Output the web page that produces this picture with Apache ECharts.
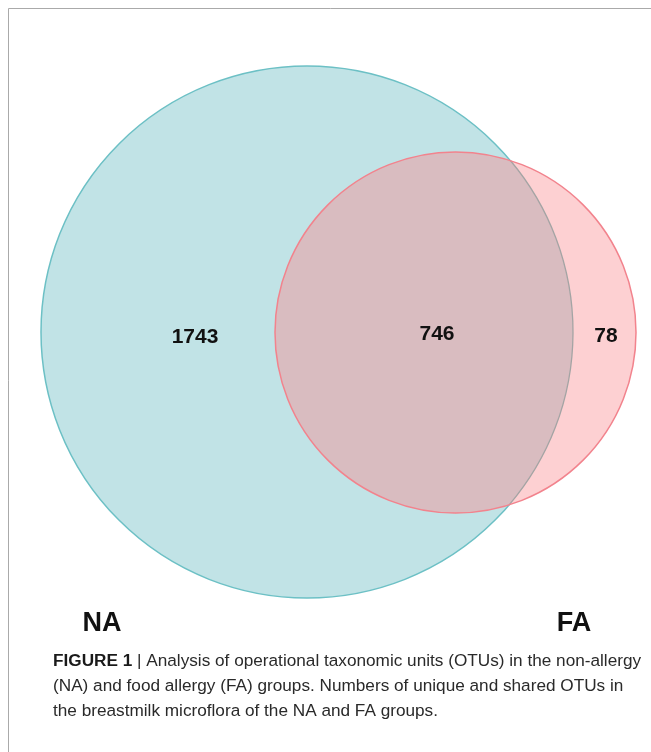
<!DOCTYPE html>
<html>
<head>
<meta charset="utf-8">
<script src="https://cdn.jsdelivr.net/npm/echarts@6/dist/echarts.min.js"></script>
<style>
html, body { margin: 0; padding: 0; background: #fff; }
#main { width: 651px; height: 752px; }
</style>
</head>
<body>
<div id="main"></div>
<script>
// venn sets and the circle layout (axis units)
const setNames = ['NA', 'FA'];
const centerX = [307, 455.5];
const centerY = [332, 332.5];
const radius = [266, 180.5];
const setLabelX = [102, 574];
const setLabelY = [624, 624];

// OTU counts: NA only, shared, FA only
const regionNames = ['NA only', 'NA & FA', 'FA only'];
const counts = [1743, 746, 78];
const countX = [195, 437, 606];
const countY = [337, 334, 336];

const captionLines = [
    '{b|FIGURE 1} | Analysis of operational taxonomic units (OTUs) in the non-allergy',
    '(NA) and food allergy (FA) groups. Numbers of unique and shared OTUs in',
    'the breastmilk microflora of the NA and FA groups.'
];

const chart = echarts.init(document.getElementById('main'));

function renderVenn(params, api) {
    const c1 = api.coord([centerX[0], centerY[0]]);
    const c2 = api.coord([centerX[1], centerY[1]]);
    const r1 = api.size([radius[0], 0])[0];
    const r2 = api.size([radius[1], 0])[0];

    // intersection points of the two circles
    const dx = c2[0] - c1[0], dy = c2[1] - c1[1];
    const d = Math.sqrt(dx * dx + dy * dy);
    const a = (d * d + r1 * r1 - r2 * r2) / (2 * d);
    const h = Math.sqrt(r1 * r1 - a * a);
    const mx = c1[0] + a * dx / d, my = c1[1] + a * dy / d;
    const p1 = [mx + h * dy / d, my - h * dx / d];
    const p2 = [mx - h * dy / d, my + h * dx / d];
    const bigFA = a > d ? 1 : 0;
    const bigNA = a < 0 ? 1 : 0;

    const lens = 'M' + p1[0] + ' ' + p1[1] +
        ' A' + r2 + ' ' + r2 + ' 0 ' + bigFA + ' 0 ' + p2[0] + ' ' + p2[1] +
        ' A' + r1 + ' ' + r1 + ' 0 ' + bigNA + ' 0 ' + p1[0] + ' ' + p1[1] + ' Z';
    const innerArc = 'M' + p1[0] + ' ' + p1[1] +
        ' A' + r1 + ' ' + r1 + ' 0 ' + bigNA + ' 1 ' + p2[0] + ' ' + p2[1];

    const children = [
        { type: 'circle', shape: { cx: c1[0], cy: c1[1], r: r1 },
          style: { fill: '#c1e3e6', stroke: '#6cc0c5', lineWidth: 1.5 } },
        { type: 'circle', shape: { cx: c2[0], cy: c2[1], r: r2 },
          style: { fill: '#fdd0d2' } },
        { type: 'path', shape: { pathData: lens },
          style: { fill: '#d9bcc0' } },
        { type: 'path', shape: { pathData: innerArc },
          style: { fill: null, stroke: '#a4a4a4', lineWidth: 1.3 } },
        { type: 'circle', shape: { cx: c2[0], cy: c2[1], r: r2 },
          style: { fill: null, stroke: '#f2838d', lineWidth: 1.5 } }
    ];

    counts.forEach(function (v, i) {
        const p = api.coord([countX[i], countY[i]]);
        children.push({
            type: 'text', x: p[0], y: p[1],
            style: { text: String(v), fill: '#111', font: 'bold 21px "Liberation Sans", Arial, sans-serif',
                     align: 'center', verticalAlign: 'middle' }
        });
    });
    setNames.forEach(function (n, i) {
        const p = api.coord([setLabelX[i], setLabelY[i]]);
        children.push({
            type: 'text', x: p[0], y: p[1],
            style: { text: n, fill: '#111', font: 'bold 27px "Liberation Sans", Arial, sans-serif',
                     align: 'center', verticalAlign: 'middle' }
        });
    });
    return { type: 'group', children: children };
}

const option = {
    animation: false,
    backgroundColor: '#fff',
    grid: { left: 0, right: 0, top: 0, bottom: 0 },
    xAxis: { type: 'value', min: 0, max: 651, show: false },
    yAxis: { type: 'value', min: 0, max: 752, inverse: true, show: false },
    series: [{
        type: 'custom',
        renderItem: renderVenn,
        data: [[0, 0]],
        silent: true
    }],
    graphic: [
        { type: 'rect', shape: { x: 8.5, y: 8.5, width: 700, height: 800 },
          style: { fill: null, stroke: '#aaaaaa', lineWidth: 1 } }
    ].concat(captionLines.map(function (t, i) {
        return {
            type: 'text', left: 53, top: 653 + i * 24.7,
            style: {
                text: t, fill: '#2a2a2a',
                font: '17.2px "Liberation Sans", Arial, sans-serif',
                rich: { b: { fontWeight: 'bold', fontSize: 17.2, fontFamily: '"Liberation Sans", Arial, sans-serif', fill: '#1a1a1a' } }
            }
        };
    }))
};

chart.setOption(option);
</script>
</body>
</html>
